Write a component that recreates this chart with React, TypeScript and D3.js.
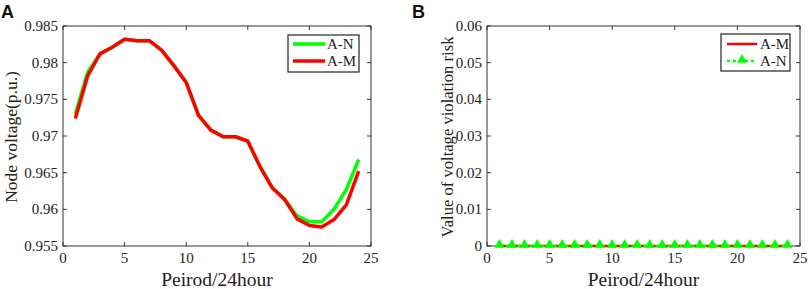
import React from "react";
import * as d3 from "d3";

const hours = d3.range(1, 25);
const voltageAN = [0.9730, 0.9787, 0.9812, 0.9821, 0.9832, 0.9830, 0.9830, 0.9817, 0.9796, 0.9773, 0.9728, 0.9708, 0.9699, 0.9699, 0.9693, 0.9658, 0.9629, 0.9614, 0.9591, 0.9583, 0.9583, 0.9600, 0.9627, 0.9668];
const voltageAM = [0.9724, 0.9782, 0.9812, 0.9821, 0.9832, 0.9830, 0.9830, 0.9817, 0.9796, 0.9773, 0.9728, 0.9708, 0.9699, 0.9699, 0.9693, 0.9658, 0.9629, 0.9613, 0.9587, 0.9578, 0.9576, 0.9586, 0.9606, 0.9652];
const riskAM = [0, 0, 0, 0, 0, 0, 0, 0, 0, 0, 0, 0, 0, 0, 0, 0, 0, 0, 0, 0, 0, 0, 0, 0];
const riskAN = [0, 0, 0, 0, 0, 0, 0, 0, 0, 0, 0, 0, 0, 0, 0, 0, 0, 0, 0, 0, 0, 0, 0, 0];
const xTicks = [0, 5, 10, 15, 20, 25];
const yTicksA = [0.955, 0.96, 0.965, 0.97, 0.975, 0.98, 0.985];
const yTickLabelsA = ["0.955", "0.96", "0.965", "0.97", "0.975", "0.98", "0.985"];
const yTicksB = [0, 0.01, 0.02, 0.03, 0.04, 0.05, 0.06];
const yTickLabelsB = ["0", "0.01", "0.02", "0.03", "0.04", "0.05", "0.06"];

const SERIF = "'Liberation Serif', 'Times New Roman', serif";
const AX = "#333";
const GREEN = "#00ff00";
const RED = "#ff0000";

type Box = { l: number; r: number; t: number; b: number };

function Frame({ box, x, y, xt, yt, ytl, xlabel, ylabel, ylabelX, ylabelSize }: any) {
  const tl = 4;
  return (
    <g>
      <rect x={box.l} y={box.t} width={box.r - box.l} height={box.b - box.t} fill="none" stroke={AX} strokeWidth={1} />
      {xt.map((v: number) => (
        <g key={"x" + v}>
          <line x1={x(v)} x2={x(v)} y1={box.b} y2={box.b - tl} stroke={AX} />
          <line x1={x(v)} x2={x(v)} y1={box.t} y2={box.t + tl} stroke={AX} />
          <text x={x(v)} y={box.b + 17} textAnchor="middle" fontFamily={SERIF} fontSize={15} fill="#222">{v}</text>
        </g>
      ))}
      {yt.map((v: number, i: number) => (
        <g key={"y" + v}>
          <line x1={box.l} x2={box.l + tl} y1={y(v)} y2={y(v)} stroke={AX} />
          <line x1={box.r} x2={box.r - tl} y1={y(v)} y2={y(v)} stroke={AX} />
          <text x={box.l - 5} y={y(v) + 5} textAnchor="end" fontFamily={SERIF} fontSize={15} fill="#222">{ytl[i]}</text>
        </g>
      ))}
      <text x={(box.l + box.r) / 2} y={box.b + 40} textAnchor="middle" fontFamily={SERIF} fontSize={19.5} fill="#222">{xlabel}</text>
      <text transform={`translate(${ylabelX},${(box.t + box.b) / 2 + 1}) rotate(-90)`} textAnchor="middle" fontFamily={SERIF} fontSize={ylabelSize} fill="#222">{ylabel}</text>
    </g>
  );
}

export default function App() {
  const boxA: Box = { l: 63, r: 371, t: 26, b: 246 };
  const boxB: Box = { l: 487, r: 800, t: 26, b: 246 };
  const xA = d3.scaleLinear().domain([0, 25]).range([boxA.l, boxA.r]);
  const yA = d3.scaleLinear().domain([0.955, 0.985]).range([boxA.b, boxA.t]);
  const xB = d3.scaleLinear().domain([0, 25]).range([boxB.l, boxB.r]);
  const yB = d3.scaleLinear().domain([0, 0.06]).range([boxB.b, boxB.t]);

  const lineA = (vals: number[]) =>
    d3.line<number>().x((_, i) => xA(hours[i])).y((v) => yA(v))(vals) || "";
  const lineB = (vals: number[]) =>
    d3.line<number>().x((_, i) => xB(hours[i])).y((v) => yB(v))(vals) || "";
  const tri = (cx: number, cy: number, s: number) =>
    `M${cx},${cy - s} L${cx + s},${cy + s * 0.75} L${cx - s},${cy + s * 0.75} Z`;

  return (
    <svg width={809} height={289} style={{ position: "absolute", left: 0, top: 0, background: "#fff" }}>
      <rect width={809} height={289} fill="#fff" />
      <text x={1} y={18} fontFamily="'Liberation Sans', Arial, sans-serif" fontWeight="bold" fontSize={18} fill="#111">A</text>
      <text x={412} y={18} fontFamily="'Liberation Sans', Arial, sans-serif" fontWeight="bold" fontSize={18} fill="#111">B</text>

      <Frame box={boxA} x={xA} y={yA} xt={xTicks} yt={yTicksA} ytl={yTickLabelsA} xlabel="Peirod/24hour" ylabel="Node voltage(p.u.)" ylabelX={17} ylabelSize={17.5} />
      <path d={lineA(voltageAN)} fill="none" stroke={GREEN} strokeWidth={3.5} strokeLinejoin="round" />
      <path d={lineA(voltageAM)} fill="none" stroke={RED} strokeWidth={3.5} strokeLinejoin="round" />
      <g>
        <rect x={288} y={35} width={71} height={37} fill="#fff" stroke="#222" strokeWidth={1.2} />
        <line x1={293} x2={325} y1={44} y2={44} stroke={GREEN} strokeWidth={3.5} />
        <text x={327} y={49} fontFamily={SERIF} fontSize={15} fill="#222">A-N</text>
        <line x1={293} x2={325} y1={61} y2={61} stroke={RED} strokeWidth={3.5} />
        <text x={327} y={66} fontFamily={SERIF} fontSize={15} fill="#222">A-M</text>
      </g>

      <Frame box={boxB} x={xB} y={yB} xt={xTicks} yt={yTicksB} ytl={yTickLabelsB} xlabel="Peirod/24hour" ylabel="Value of voltage violation risk" ylabelX={453} ylabelSize={16.6} />
      <path d={lineB(riskAM)} fill="none" stroke={RED} strokeWidth={2.5} />
      <path d={lineB(riskAN)} fill="none" stroke={GREEN} strokeWidth={2.5} strokeDasharray="3,3" />
      {riskAN.map((v, i) => (
        <path key={i} d={tri(xB(hours[i]), yB(v) - 2, 5)} fill={GREEN} />
      ))}
      <g>
        <rect x={721} y={34} width={69} height={37} fill="#fff" stroke="#222" strokeWidth={1.2} />
        <line x1={727} x2={757} y1={44} y2={44} stroke={RED} strokeWidth={2.5} />
        <text x={760} y={49} fontFamily={SERIF} fontSize={15} fill="#222">A-M</text>
        <line x1={727} x2={757} y1={61} y2={61} stroke={GREEN} strokeWidth={2.5} strokeDasharray="3,3" />
        <path d={tri(742, 59, 5)} fill={GREEN} />
        <text x={760} y={66} fontFamily={SERIF} fontSize={15} fill="#222">A-N</text>
      </g>
    </svg>
  );
}
